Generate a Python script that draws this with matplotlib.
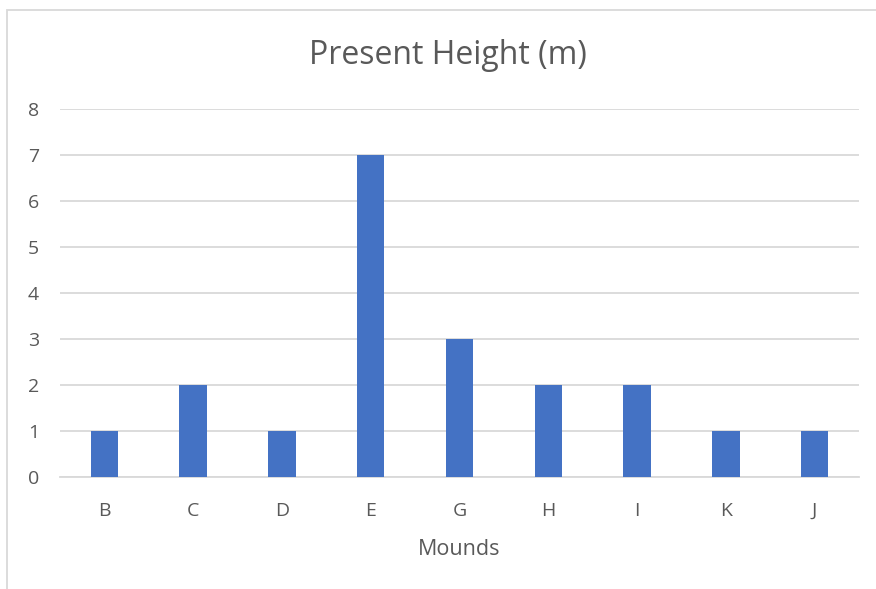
import matplotlib
matplotlib.use("Agg")
import matplotlib.pyplot as plt
from matplotlib.patches import Rectangle

# Mound heights
mounds = ["B", "C", "D", "E", "G", "H", "I", "K", "J"]
heights = [1, 2, 1, 7, 3, 2, 2, 1, 1]
y_ticks = [0, 1, 2, 3, 4, 5, 6, 7, 8]

plt.rcParams["font.family"] = ["Open Sans", "DejaVu Sans"]
text_color = "#595959"

fig = plt.figure(figsize=(8.76, 5.89), dpi=100)
ax = fig.add_axes([60 / 876, 1 - 477 / 589, 799 / 876, 368 / 589])

x = range(len(mounds))
ax.bar(x, heights, width=0.31, color="#4472C4", zorder=3)

ax.set_xlim(-0.5, len(mounds) - 0.5)
ax.set_ylim(0, 8)
ax.set_yticks(y_ticks)
ax.set_xticks(list(x))
ax.set_xticklabels(mounds)
ax.grid(axis="y", color="#d9d9d9", linewidth=1.3, zorder=0)
for side in ["top", "right", "left"]:
    ax.spines[side].set_visible(False)
ax.spines["bottom"].set_color("#d9d9d9")
ax.spines["bottom"].set_linewidth(1.3)
ax.tick_params(axis="both", length=0, labelsize=14, colors=text_color)
ax.tick_params(axis="y", pad=15)
ax.tick_params(axis="x", pad=18)

ax.set_xlabel("Mounds", fontsize=15.5, color=text_color, labelpad=14)
fig.text(448 / 876, 1 - 56 / 589, "Present Height (m)", fontsize=23,
         color=text_color, ha="center", va="center")

# chart frame, cut off at right and bottom like the screenshot
fig.patches.append(Rectangle((7 / 876, -0.1), 1.0, 1 - 10 / 589 + 0.1,
                             transform=fig.transFigure, fill=False,
                             edgecolor="#d9d9d9", linewidth=1.3))

fig.savefig("out.png", dpi=100)
